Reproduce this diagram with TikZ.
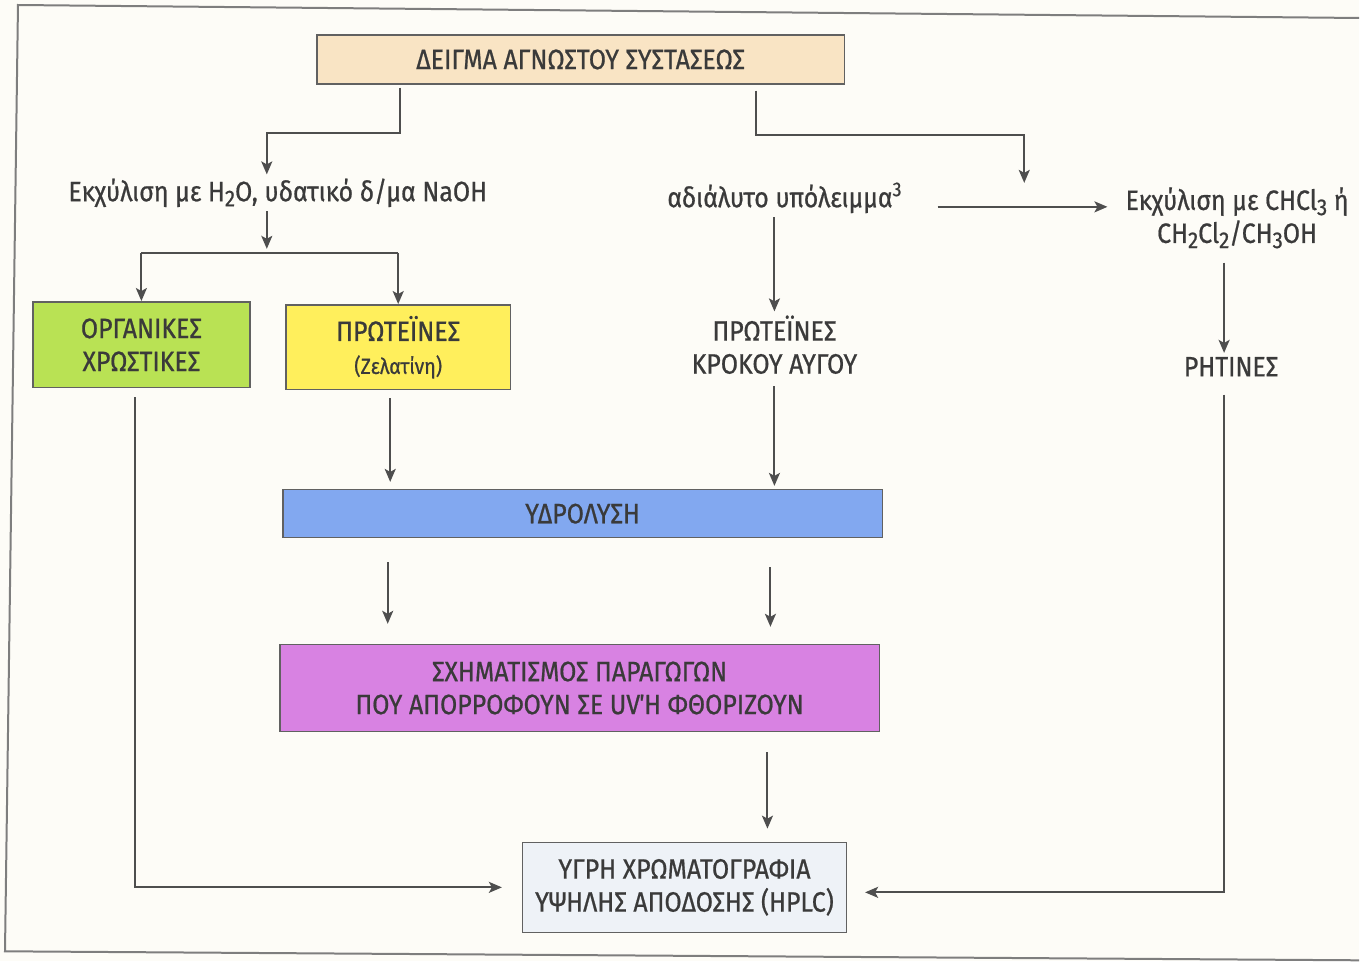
\documentclass[tikz,border=0pt]{standalone}
\usepackage{fontspec}
\setmainfont{Fira Sans}[FakeStretch=0.89,FakeBold=0.7]
\usepackage{xcolor}
\usetikzlibrary{arrows.meta,positioning,calc}
\definecolor{ink}{HTML}{3A3A3A}
\definecolor{paper}{HTML}{FDFCF7}
\definecolor{framegray}{HTML}{7E7E7E}
\definecolor{wheat}{HTML}{F9E4C4}
\definecolor{limegreen}{HTML}{B9E254}
\definecolor{lemon}{HTML}{FFEF5C}
\definecolor{cornflower}{HTML}{82A8F0}
\definecolor{orchid}{HTML}{D882E2}
\definecolor{icebg}{HTML}{EEF2F7}
\newcommand{\sbs}[1]{\raisebox{-0.35ex}{\fontsize{23}{23}\selectfont #1}}
\newcommand{\sps}[1]{\raisebox{0.75ex}{\fontsize{20}{20}\selectfont #1}}
\tikzset{
  >={Stealth[length=13pt,width=11pt,inset=3pt]},
  every node/.style={font=\fontsize{28}{33}\selectfont,text=ink},
  box/.style={draw=ink!80,line width=1.5pt,align=center,inner sep=4pt},
  samplebox/.style={box,fill=wheat,minimum width=528pt,minimum height=49pt},
  dyebox/.style={box,fill=limegreen,minimum width=217pt,minimum height=86pt},
  protbox/.style={box,fill=lemon,minimum width=225pt,minimum height=85pt},
  hydrobox/.style={box,fill=cornflower,minimum width=600pt,minimum height=48pt},
  derivbox/.style={box,fill=orchid,minimum width=600pt,minimum height=87pt},
  hplcbox/.style={box,fill=icebg,minimum width=324pt,minimum height=90pt},
  plain/.style={align=center,inner sep=4pt},
  arrow/.style={->,line width=2pt,draw=ink!90},
  line/.style={line width=2pt,draw=ink!90}
}
\begin{document}
\begin{tikzpicture}[x=1pt,y=-1pt]
  \fill[paper] (0,0) rectangle (1360,962);
  \draw[line width=2pt,draw=framegray] (1360,18) -- (18,5) -- (5,952) -- (1360,961);

  \node[samplebox] (sample) at (581,59.5) {ΔΕΙΓΜΑ ΑΓΝΩΣΤΟΥ ΣΥΣΤΑΣΕΩΣ};
  \node[plain] (aq) at (278,193) {Εκχύλιση με H\sbs{2}O, υδατικό δ/μα NaOH};
  \node[plain] (insol) at (785,198) {αδιάλυτο υπόλειμμα\sps{3}};
  \node[plain] (chcl) at (1238,218) {Εκχύλιση με CHCl\sbs{3} ή\\CH\sbs{2}Cl\sbs{2}/CH\sbs{3}OH};
  \node[dyebox] (dyes) at (141.5,345) {ΟΡΓΑΝΙΚΕΣ\\ΧΡΩΣΤΙΚΕΣ};
  \node[protbox] (gel) at (398.5,347.5) {ΠΡΩΤΕΪΝΕΣ\\{\fontsize{22}{33}\selectfont (Ζελατίνη)}};
  \node[plain] (yolk) at (775,345) {ΠΡΩΤΕΪΝΕΣ\\ΚΡΟΚΟΥ ΑΥΓΟΥ};
  \node[plain] (resin) at (1232,367) {ΡΗΤΙΝΕΣ};
  \node[hydrobox] (hydro) at (583,514) {ΥΔΡΟΛΥΣΗ};
  \node[derivbox] (deriv) at (580,688.5) {ΣΧΗΜΑΤΙΣΜΟΣ ΠΑΡΑΓΩΓΩΝ\\ΠΟΥ ΑΠΟΡΡΟΦΟΥΝ ΣΕ UV΄Η ΦΘΟΡΙΖΟΥΝ};
  \node[hplcbox] (hplc) at (685,888) {ΥΓΡΗ ΧΡΩΜΑΤΟΓΡΑΦΙΑ\\ΥΨΗΛΗΣ ΑΠΟΔΟΣΗΣ (HPLC)};

  \coordinate (lbend) at (267,133);
  \coordinate (rbend) at (1025,135);
  \coordinate (rtip) at (1025,183);
  \coordinate (split) at (267,253);
  \coordinate (rtop) at ([xshift=-7pt]resin.north);

  \draw[arrow] ($(sample.south)+(-181,3)$) |- (lbend) -- (aq.north -| lbend);
  \draw[arrow] ($(sample.south)+(176,6)$) |- (rbend) -- (rtip);
  \draw[arrow] (aq.south -| lbend) -- ([yshift=4pt]split);
  \draw[line] (split -| dyes.north) -- (split -| gel.north);
  \draw[arrow] (split -| dyes.north) -- (dyes.north);
  \draw[arrow] (split -| gel.north) -- (gel.north);
  \draw[arrow] ($(insol.east)+(32,9)$) -- ($(insol.east -| chcl.west)+(-14,9)$);
  \draw[arrow] (insol.south -| yolk.north) -- (yolk.north);
  \draw[arrow,shorten <=10pt] (chcl.south -| rtop) -- (rtop);
  \draw[arrow,shorten <=8pt,shorten >=7pt] ([xshift=-8pt]gel.south) -- ([xshift=-8pt]gel.south |- hydro.north);
  \draw[arrow,shorten <=8pt,shorten >=3pt] (yolk.south) -- (yolk.south |- hydro.north);
  \draw[arrow,shorten <=24pt,shorten >=20pt] ([xshift=-195pt]hydro.south) -- ([xshift=-195pt]hydro.south |- deriv.north);
  \draw[arrow,shorten <=29pt,shorten >=17pt] ([xshift=188pt]hydro.south) -- ([xshift=188pt]hydro.south |- deriv.north);
  \draw[arrow,shorten <=20pt,shorten >=13pt] ([xshift=188pt]deriv.south) -- ([xshift=188pt]deriv.south |- hplc.north);
  \draw[arrow,shorten <=9pt,shorten >=20pt] ([xshift=-6pt]dyes.south) |- (hplc.west);
  \draw[arrow,shorten <=14pt,shorten >=18pt] ([xshift=-7pt]resin.south) |- ([yshift=-5pt]hplc.east);
\end{tikzpicture}
\end{document}
